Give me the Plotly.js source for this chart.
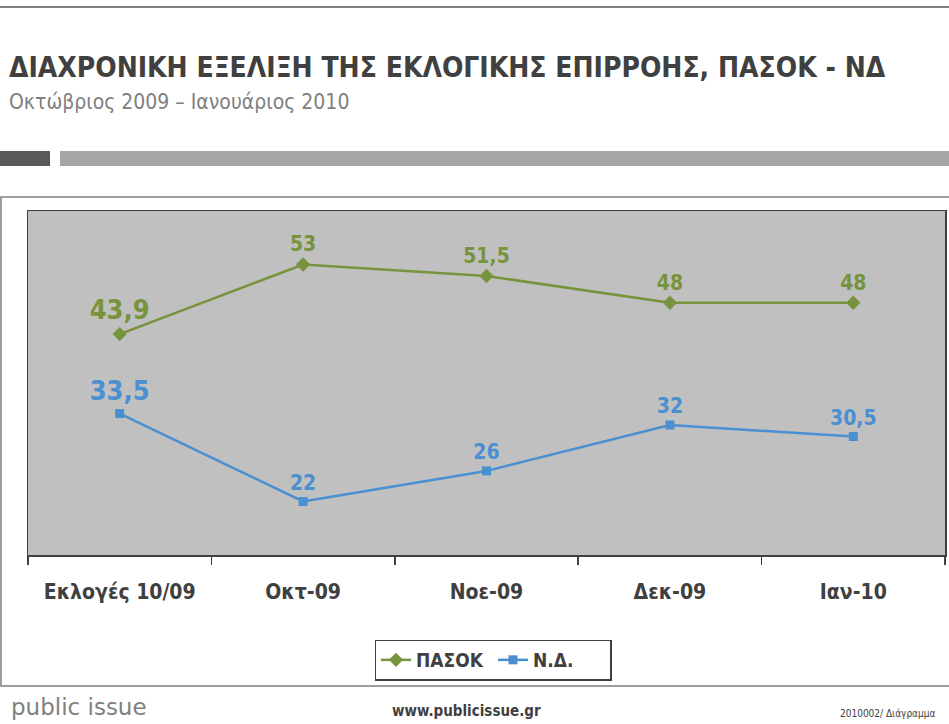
<!DOCTYPE html>
<html>
<head>
<meta charset="utf-8">
<script src="https://cdn.plot.ly/plotly-3.0.1.min.js"></script>
<style>
    html, body { margin: 0; padding: 0; background: #fff; }
    #chart { width: 949px; height: 724px; }
</style>
</head>
<body>
<div id="chart"></div>
<script>
(function () {
    'use strict';

    // data
    var categories = ['Εκλογές 10/09', 'Οκτ-09', 'Νοε-09', 'Δεκ-09', 'Ιαν-10'];
    var pasok = [43.9, 53, 51.5, 48, 48];
    var nd = [33.5, 22, 26, 32, 30.5];
    var pasokLabels = ['43,9', '53', '51,5', '48', '48'];
    var ndLabels = ['33,5', '22', '26', '32', '30,5'];

    var FONT = '"DejaVu Sans Condensed", "Open Sans", sans-serif';
    var W = 949, H = 724;
    var margin = { l: 28, r: 4, t: 211, b: 169 };
    var plotW = W - margin.l - margin.r;
    var plotH = H - margin.t - margin.b;

    // pixel -> paper helpers for the page decorations
    function px(x) { return (x - margin.l) / plotW; }
    function py(y) { return (H - margin.b - y) / plotH; }

    var labelSizes = [27, 21, 21, 21, 21];

    var tracePasok = {
        x: categories,
        y: pasok,
        name: 'ΠΑΣΟΚ',
        mode: 'lines+markers+text',
        text: pasokLabels,
        textposition: 'top center',
        textfont: { family: FONT, size: labelSizes, color: '#77933c', weight: 'bold' },
        line: { color: '#77933c', width: 2.5 },
        marker: { symbol: 'diamond', size: 11, color: '#77933c' },
        cliponaxis: false
    };

    var traceNd = {
        x: categories,
        y: nd,
        name: 'Ν.Δ.',
        mode: 'lines+markers+text',
        text: ndLabels,
        textposition: 'top center',
        textfont: { family: FONT, size: labelSizes, color: '#4a8fd0', weight: 'bold' },
        line: { color: '#4a8fd0', width: 2.5 },
        marker: { symbol: 'square', size: 9, color: '#4a8fd0' },
        cliponaxis: false
    };

    var shapes = [
        // top rule
        { type: 'line', xref: 'paper', yref: 'paper', x0: px(0), x1: px(W), y0: py(7), y1: py(7),
          line: { color: '#808080', width: 2 } },
        // header bars
        { type: 'rect', xref: 'paper', yref: 'paper', x0: px(0), x1: px(50), y0: py(151), y1: py(166),
          fillcolor: '#595959', line: { width: 0 } },
        { type: 'rect', xref: 'paper', yref: 'paper', x0: px(60), x1: px(W), y0: py(151), y1: py(166),
          fillcolor: '#a6a6a6', line: { width: 0 } },
        // chart frame
        { type: 'rect', xref: 'paper', yref: 'paper', x0: px(1), x1: px(W + 5), y0: py(197), y1: py(686),
          fillcolor: 'rgba(0,0,0,0)', line: { color: '#7f7f7f', width: 1.5 }, layer: 'below' }
    ];

    var annotations = [
        { text: 'ΔΙΑΧΡΟΝΙΚΗ ΕΞΕΛΙΞΗ ΤΗΣ ΕΚΛΟΓΙΚΗΣ ΕΠΙΡΡΟΗΣ, ΠΑΣΟΚ - ΝΔ',
          xref: 'paper', yref: 'paper', x: px(7), y: py(68), xanchor: 'left', yanchor: 'middle',
          showarrow: false, font: { family: FONT, size: 28, color: '#404040', weight: 'bold' } },
        { text: 'Οκτώβριος 2009 – Ιανουάριος 2010',
          xref: 'paper', yref: 'paper', x: px(7), y: py(102), xanchor: 'left', yanchor: 'middle',
          showarrow: false, font: { family: FONT, size: 21, color: '#7f7f7f' } },
        { text: 'public issue',
          xref: 'paper', yref: 'paper', x: px(9), y: py(707), xanchor: 'left', yanchor: 'middle',
          showarrow: false, font: { family: '"DejaVu Sans", sans-serif', size: 23, color: '#7f7f7f' } },
        { text: 'www.publicissue.gr',
          xref: 'paper', yref: 'paper', x: px(466), y: py(711), xanchor: 'center', yanchor: 'middle',
          showarrow: false, font: { family: FONT, size: 15, color: '#404040', weight: 'bold' } },
        { text: '2010002/ Διάγραμμα',
          xref: 'paper', yref: 'paper', x: px(838), y: py(713), xanchor: 'left', yanchor: 'middle',
          showarrow: false, font: { family: FONT, size: 10, color: '#404040' } }
    ];

    var layout = {
        width: W,
        height: H,
        margin: margin,
        paper_bgcolor: '#ffffff',
        plot_bgcolor: '#c0c0c0',
        showlegend: true,
        legend: {
            orientation: 'h',
            xref: 'paper', yref: 'paper',
            x: px(493), y: py(660), xanchor: 'center', yanchor: 'middle',
            bordercolor: '#404040', borderwidth: 1.5,
            bgcolor: '#ffffff',
            font: { family: FONT, size: 19, color: '#404040', weight: 'bold' },
            itemwidth: 30,
            entrywidth: 72,
            tracegroupgap: 0
        },
        xaxis: {
            type: 'category',
            range: [-0.5, 4.5],
            tickson: 'boundaries',
            ticks: 'outside',
            ticklen: 8,
            tickwidth: 1.5,
            tickcolor: '#404040',
            showline: true,
            linecolor: '#404040',
            linewidth: 1.5,
            mirror: true,
            showgrid: false,
            zeroline: false,
            ticklabelstandoff: 17,
            tickfont: { family: FONT, size: 21, color: '#404040', weight: 'bold' },
            fixedrange: true
        },
        yaxis: {
            range: [15, 60],
            showticklabels: false,
            ticks: '',
            showgrid: false,
            zeroline: false,
            showline: true,
            linecolor: '#404040',
            linewidth: 1.5,
            mirror: true,
            fixedrange: true
        },
        shapes: shapes,
        annotations: annotations
    };

    Plotly.newPlot('chart', [tracePasok, traceNd], layout, { staticPlot: true });
})();
</script>
</body>
</html>
